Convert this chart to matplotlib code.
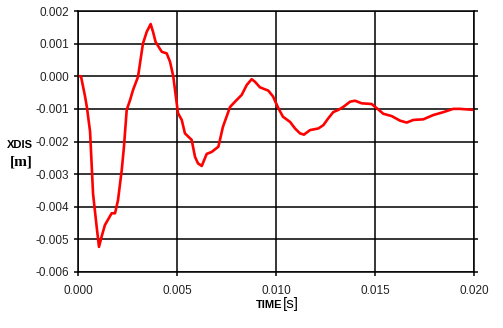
import numpy as np
import matplotlib.pyplot as plt
from matplotlib.ticker import FormatStrFormatter, MultipleLocator

plt.rcParams['font.family'] = ['Liberation Sans', 'DejaVu Sans']
plt.rcParams['axes.unicode_minus'] = False

# time [s] and displacement [m]
time = [0, 0.00015, 0.00035, 0.00045, 0.00061, 0.00076, 0.00094, 0.00106, 0.0012,
        0.00136, 0.0017, 0.00187, 0.00202, 0.00221, 0.00232, 0.00246, 0.00263,
        0.00278, 0.00303, 0.00328, 0.00347, 0.00367, 0.00379, 0.00392, 0.00423,
        0.00448, 0.00465, 0.00481, 0.00505, 0.00524, 0.0054, 0.00574, 0.00591,
        0.00606, 0.00625, 0.0065, 0.00675, 0.00709, 0.00732, 0.00768, 0.00793,
        0.00827, 0.00852, 0.00877, 0.00894, 0.00919, 0.00961, 0.00985, 0.01012,
        0.01035, 0.01071, 0.01096, 0.01121, 0.01141, 0.01172, 0.01214, 0.01239,
        0.01264, 0.01289, 0.01315, 0.0134, 0.01374, 0.01399, 0.01433, 0.01483,
        0.01509, 0.01542, 0.01584, 0.01626, 0.0166, 0.01693, 0.01744, 0.01794,
        0.01845, 0.01895, 0.01929, 0.01996]
xdis = [0, 0, -0.0006, -0.00095, -0.0017, -0.0036, -0.0046, -0.00523, -0.0049,
        -0.00456, -0.0042, -0.0042, -0.0038, -0.00287, -0.00217, -0.00103, -0.00073,
        -0.00042, -0.00002, 0.001, 0.00136, 0.0016, 0.00136, 0.00105, 0.00075,
        0.0007, 0.00044, 0, -0.00113, -0.00134, -0.00175, -0.00195, -0.00247,
        -0.00267, -0.00275, -0.00238, -0.00232, -0.00216, -0.00155, -0.00094, -0.00078,
        -0.00057, -0.00027, -0.00009, -0.00017, -0.00034, -0.00044, -0.00062, -0.00098,
        -0.00124, -0.0014, -0.0016, -0.00175, -0.00179, -0.00165, -0.0016, -0.0015,
        -0.00129, -0.0011, -0.00103, -0.00094, -0.00078, -0.00075, -0.00083, -0.00085,
        -0.00098, -0.00115, -0.00122, -0.00136, -0.00142, -0.00134, -0.00132, -0.00119,
        -0.0011, -0.001, -0.001, -0.00103]

fig = plt.figure(figsize=(5.03, 3.28), dpi=100)
ax = fig.add_axes([78/503, 1-272/328, 396/503, 261/328])

ax.plot(time, xdis, color='#ff0000', lw=1.9)

ax.set_xlim(0, 0.020)
ax.set_ylim(-0.006, 0.002)
ax.xaxis.set_major_locator(MultipleLocator(0.005))
ax.yaxis.set_major_locator(MultipleLocator(0.001))
ax.xaxis.set_major_formatter(FormatStrFormatter('%.3f'))
ax.yaxis.set_major_formatter(FormatStrFormatter('%.3f'))
ax.grid(True, color='black', lw=1.1)
for s in ax.spines.values():
    s.set_linewidth(1.1)
ax.tick_params(length=3, width=1.1, labelsize=8.5, direction='out',
               right=True, top=False, labelcolor='#222222')
ax.tick_params(axis='x', pad=6)

fig.text(7/503, 1-145/328, 'XDIS', fontsize=8, fontweight='bold', va='center')
fig.text(10/503, 1-162/328, '[m]', fontsize=11, fontweight='bold', va='center',
         family='Liberation Serif')
fig.text(256/503, 1-305/328, 'TIME', fontsize=8, fontweight='bold', va='center')
fig.text(283/503, 1-304/328, '[s]', fontsize=11, va='center')

fig.savefig('out.png', dpi=100)
